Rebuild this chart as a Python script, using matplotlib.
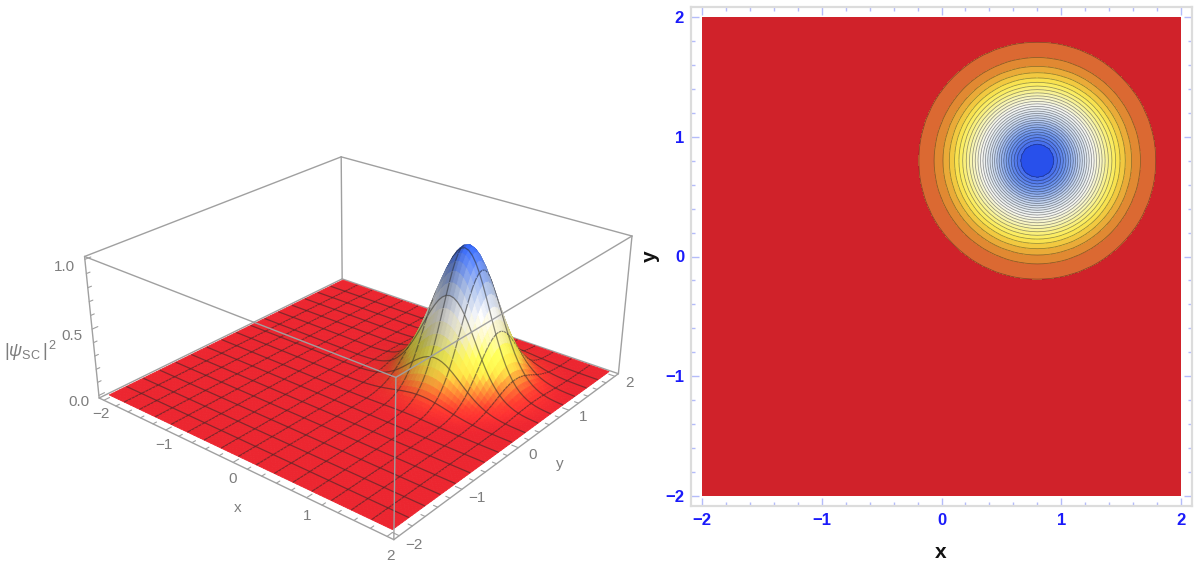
import numpy as np
import matplotlib
matplotlib.use("Agg")
import matplotlib.pyplot as plt
from matplotlib.colors import LinearSegmentedColormap
from mpl_toolkits.mplot3d.art3d import Poly3DCollection, Line3DCollection

plt.rcParams['font.family'] = ['Liberation Sans', 'DejaVu Sans']
plt.rcParams['mathtext.fontset'] = 'custom'
plt.rcParams['mathtext.rm'] = 'Liberation Sans'
plt.rcParams['mathtext.it'] = 'Liberation Sans:italic'

# ---------- data ----------
grid_x = np.linspace(-2, 2, 81)
# height of the bump along a section through its peak, x = -0.4 ... 2.0 in steps of 0.05
section_height = [
    .003, .005, .008, .012, .018, .027, .039, .056, .077, .105, .141, .185,
    .237, .298, .368, .445, .527, .613, .698, .779, .852, .914, .961, .990,
    1.00,
    .990, .961, .914, .852, .779, .698, .613, .527, .445, .368, .298, .237,
    .185, .141, .105, .077, .056, .039, .027, .018, .012, .008, .005, .003]
contour_levels = [.020, .052, .084, .116, .149, .181, .213, .245, .278, .310,
                  .342, .375, .407, .439, .472, .504, .536, .568, .600, .633,
                  .665, .697, .730, .762, .794, .826, .859, .891, .925]
major_ticks = [-2, -1, 0, 1, 2]
minor_ticks = [-1.8, -1.6, -1.4, -1.2, -.8, -.6, -.4, -.2, .2, .4, .6, .8,
               1.2, 1.4, 1.6, 1.8]
z_major = [0.0, 0.5, 1.0]
z_minor = [.1, .2, .3, .4, .6, .7, .8, .9]

# ---------- assembling ----------
section = np.concatenate([np.zeros(81 - len(section_height)), section_height])
Z = np.outer(section, section)       # Z[j, i]: row = y, column = x

stops = [(0, (208, 34, 42)), (.03, (218, 100, 50)), (.07, (226, 140, 50)),
         (.12, (240, 195, 60)), (.18, (252, 236, 85)), (.30, (248, 245, 180)),
         (.42, (246, 246, 240)), (.60, (200, 215, 240)), (.80, (110, 150, 238)),
         (1, (40, 80, 235))]
flat_cmap = LinearSegmentedColormap.from_list(
    'flat', [(p, tuple(c / 255 for c in col)) for p, col in stops])
stops3d = [(0, (236, 38, 48)), (.05, (245, 60, 45)), (.12, (250, 130, 50)), (.22, (255, 225, 70)),
           (.32, (255, 250, 90)), (.45, (255, 250, 200)), (.58, (255, 255, 255)),
           (.75, (180, 200, 240)), (1, (50, 100, 245))]
surf_cmap = LinearSegmentedColormap.from_list(
    'surf', [(p, tuple(c / 255 for c in col)) for p, col in stops3d])

W, H = 1196, 574
fig = plt.figure(figsize=(W / 100, H / 100), dpi=100, facecolor='white')

# ---------- left: 3D surface ----------
S = 541
cx, cy = 356, 325
ax3 = fig.add_axes([(cx - S / 2) / W, 1 - (cy + S / 2) / H, S / W, S / H],
                   projection='3d', computed_zorder=False)
ax3.set_proj_type('persp', focal_length=0.44)
ax3.view_init(elev=26, azim=-50.5)
ax3.set_box_aspect((1, 1, 0.41))
B = 2.08
zlo, zhi = -0.02, 1.02
ax3.set_xlim(-B, B, view_margin=0)
ax3.set_ylim(-B, B, view_margin=0)
ax3.set_zlim(zlo, zhi, view_margin=0)
ax3.set_axis_off()
ax3.patch.set_alpha(0)

GR = '#a0a0a0'
TXT = '#7d7d7d'
def edge(p, q, z, lw=1.0, c=GR):
    ax3.plot([p[0], q[0]], [p[1], q[1]], [p[2], q[2]], color=c, lw=lw, zorder=z,
             clip_on=False, solid_capstyle='round')

# box edges behind the surface
edge((-B, B, zlo), (B, B, zlo), 1)
edge((-B, B, zlo), (-B, -B, zlo), 1)
edge((-B, B, zlo), (-B, B, zhi), 1)
edge((-B, B, zhi), (B, B, zhi), 1)
edge((-B, B, zhi), (-B, -B, zhi), 1)
edge((B, B, zlo), (B, B, zhi), 1)
edge((-B, -B, zlo), (-B, -B, zhi), 1)

# surface, drawn strip by strip from the back to the front
dy, dx = np.gradient(Z, grid_x, grid_x)
nrm = np.stack([-dx, -dy, np.ones_like(Z)], axis=-1)
nrm /= np.linalg.norm(nrm, axis=-1, keepdims=True)
light = np.array([0.45, -0.2, 0.87])
light = light / np.linalg.norm(light)
shade = np.clip((nrm @ light) / light[2], 0.6, 1.1)
n = len(grid_x)
z_order = 10
for j in range(n - 2, -1, -1):
    i = np.arange(n - 1)
    verts = np.stack([
        np.stack([grid_x[i], np.full(n - 1, grid_x[j]), Z[j, i]], axis=1),
        np.stack([grid_x[i + 1], np.full(n - 1, grid_x[j]), Z[j, i + 1]], axis=1),
        np.stack([grid_x[i + 1], np.full(n - 1, grid_x[j + 1]), Z[j + 1, i + 1]], axis=1),
        np.stack([grid_x[i], np.full(n - 1, grid_x[j + 1]), Z[j + 1, i]], axis=1)], axis=1)
    zc = (Z[j, i] + Z[j, i + 1] + Z[j + 1, i + 1] + Z[j + 1, i]) / 4
    sc = (shade[j, i] + shade[j, i + 1] + shade[j + 1, i + 1] + shade[j + 1, i]) / 4
    col = surf_cmap(zc)
    col[:, :3] = np.clip(col[:, :3] * sc[:, None] ** 0.75, 0, 1)
    poly = Poly3DCollection(verts, facecolors=col, edgecolors=col, linewidths=0.6,
                            zorder=z_order, zsort='average')
    ax3.add_collection3d(poly, autolim=False)
    z_order += 1
    segs = []
    if (j + 1) % 5 == 0 and j + 1 < n - 1:
        segs.append(np.stack([grid_x, np.full(n, grid_x[j + 1]), Z[j + 1]], axis=1))
    for ii in range(5, n - 1, 5):
        segs.append(np.array([[grid_x[ii], grid_x[j], Z[j, ii]],
                              [grid_x[ii], grid_x[j + 1], Z[j + 1, ii]]]))
    lines = Line3DCollection(segs, colors=[(0.15, 0.15, 0.15, 0.52)], linewidths=0.9,
                             zorder=z_order)
    ax3.add_collection3d(lines, autolim=False)
    z_order += 1

# box edges in front of the surface
top = z_order + 5
edge((-B, -B, zlo), (B, -B, zlo), top)
edge((B, -B, zlo), (B, B, zlo), top)
edge((B, -B, zlo), (B, -B, zhi), top)
edge((-B, -B, zhi), (B, -B, zhi), top)
edge((B, -B, zhi), (B, B, zhi), top)

# ticks and labels of the box
for v in major_ticks + minor_ticks:
    L = 0.08 if v in major_ticks else 0.05
    edge((v, -B, zlo), (v, -B + L, zlo), top, lw=0.8)
    edge((B, v, zlo), (B - L, v, zlo), top, lw=0.8)
for v in z_major + z_minor:
    L = 0.08 if v in z_major else 0.05
    edge((-B, -B, v), (-B, -B + L, v), top, lw=0.8)
def lab(v):
    return f'{v}'.replace('-', '\u2212')
for v in major_ticks:
    ax3.text(v + 0.21, -B - 0.22, zlo, lab(v), color=TXT, fontsize=11, ha='center', va='center', zorder=top)
    ax3.text(B + 0.2, v - 0.03, zlo, lab(v), color=TXT, fontsize=11, ha='center', va='center', zorder=top)
for v in z_major:
    ax3.text(-B - 0.08, -B - 0.08, v - 0.05, f'{v:.1f}', color=TXT, fontsize=11, ha='right', va='center', zorder=top)
ax3.text(0.61, -B - 0.557, zlo, 'x', color=TXT, fontsize=11, ha='center', va='center', zorder=top)
ax3.text(B + 0.5, 0, zlo, 'y', color=TXT, fontsize=11, ha='center', va='center', zorder=top)
fig.text(31 / W, 1 - 351 / H, r'$|\psi_{\mathrm{SC}}\,|^{\,2}$', color=TXT, fontsize=13,
         ha='center', va='center')

# ---------- right: contour map ----------
L, R, T, Bt = 691, 1192, 7, 506
ax = fig.add_axes([L / W, 1 - Bt / H, (R - L) / W, (Bt - T) / H])
ppu = 119.75
ax.set_xlim(-2 - (702 - L) / ppu, 2 + (R - 1181) / ppu)
ax.set_ylim(-2 - (Bt - 496) / ppu, 2 + (17 - T) / ppu)
lv = [-0.1] + contour_levels + [1.1]
mids = [0.0] + [(a + b) / 2 for a, b in zip(contour_levels[:-1], contour_levels[1:])] + [1.0]
ax.contourf(grid_x, grid_x, Z, levels=lv, colors=[flat_cmap(float(m)) for m in mids])
ax.contour(grid_x, grid_x, Z, levels=contour_levels, colors=[(0.1, 0.1, 0.1, 0.45)], linewidths=0.55)
for s in ax.spines.values():
    s.set_color('#dcdcdc')
    s.set_linewidth(1.6)
tk = '#b4bcfa'
ax.set_xticks(major_ticks)
ax.set_yticks(major_ticks)
ax.set_xticks(minor_ticks, minor=True)
ax.set_yticks(minor_ticks, minor=True)
ax.tick_params(which='major', direction='in', length=5.5, width=1.0, color=tk, top=True, right=True, pad=5,
               labelsize=12, labelcolor='#1a1afa')
ax.tick_params(which='minor', direction='in', length=3, width=1.0, color=tk, top=True, right=True)
ax.set_xticklabels([lab(v) for v in major_ticks], fontweight='bold')
ax.set_yticklabels([lab(v) for v in major_ticks], fontweight='bold')
fig.text(941 / W, 1 - 553 / H, 'x', fontsize=15, fontweight='bold', color='#111111', ha='center', va='center')
fig.text(650 / W, 1 - 256 / H, 'y', fontsize=15, fontweight='bold', color='#111111', rotation=90,
         ha='center', va='center')

fig.savefig('out.png', dpi=100)
